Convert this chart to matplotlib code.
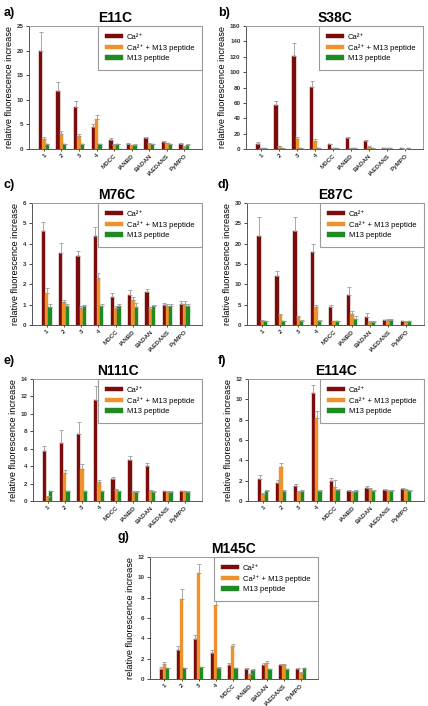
import numpy as np
import matplotlib
matplotlib.use('Agg')
import matplotlib.pyplot as plt

plt.rcParams['font.family'] = ['Liberation Sans', 'DejaVu Sans']

categories = ['1', '2', '3', '4', 'MDCC', 'IANBD', 'BADAN', 'IAEDANS', 'PyMPO']
series_names = ['Ca²⁺', 'Ca²⁺ + M13 peptide', 'M13 peptide']
colors = ['#7a0c0c', '#f0922c', '#1f8a23']

# a) E11C
e11c_ca = [19.9, 11.7, 8.5, 4.5, 1.9, 1.1, 2.2, 1.4, 1.1]
e11c_ca_err = [3.8, 2.0, 1.2, 0.6, 0.3, 0.15, 0.3, 0.15, 0.1]
e11c_pep = [2.1, 3.1, 2.6, 6.1, 0.9, 0.8, 1.1, 1.2, 0.5]
e11c_pep_err = [0.3, 0.6, 0.4, 0.8, 0.1, 0.1, 0.1, 0.1, 0.05]
e11c_m13 = [1.0, 1.0, 1.0, 1.0, 1.0, 0.9, 1.0, 1.0, 0.9]
e11c_m13_err = [0.1, 0.1, 0.1, 0.1, 0.1, 0.1, 0.1, 0.1, 0.1]

# b) S38C
s38c_ca = [7, 57, 121, 81, 6, 14, 10, 1, 1]
s38c_ca_err = [2, 6, 17, 8, 0.6, 1.5, 1.5, 0.1, 0.1]
s38c_pep = [1, 4, 13, 11, 1, 1, 3, 1, 0.5]
s38c_pep_err = [0.2, 0.5, 3, 1.5, 0.1, 0.1, 0.5, 0.1, 0.1]
s38c_m13 = [1, 1, 1, 1, 1, 1, 1, 1, 1]
s38c_m13_err = [0.1, 0.1, 0.1, 0.1, 0.1, 0.1, 0.1, 0.1, 0.1]

# c) M76C
m76c_ca = [4.6, 3.55, 3.38, 4.4, 1.37, 1.47, 1.63, 0.98, 1.05]
m76c_ca_err = [0.47, 0.5, 0.25, 0.43, 0.2, 0.25, 0.12, 0.08, 0.15]
m76c_pep = [1.58, 1.13, 0.83, 2.32, 0.83, 1.23, 0.8, 0.95, 1.05]
m76c_pep_err = [0.22, 0.12, 0.1, 0.22, 0.1, 0.15, 0.08, 0.1, 0.12]
m76c_m13 = [0.9, 0.95, 0.95, 0.95, 0.93, 0.88, 0.93, 0.93, 0.93]
m76c_m13_err = [0.12, 0.1, 0.05, 0.08, 0.12, 0.2, 0.07, 0.1, 0.08]

# d) E87C
e87c_ca = [21.8, 12.0, 23.0, 18.0, 4.5, 7.5, 2.0, 1.2, 1.0]
e87c_ca_err = [4.8, 1.3, 3.5, 1.8, 0.4, 1.8, 0.9, 0.1, 0.1]
e87c_pep = [1.1, 2.5, 2.0, 4.5, 1.0, 2.7, 0.8, 1.3, 0.8]
e87c_pep_err = [0.1, 0.3, 0.3, 0.4, 0.1, 0.8, 0.2, 0.1, 0.1]
e87c_m13 = [1.0, 1.0, 1.1, 1.1, 1.0, 1.5, 0.8, 1.3, 1.0]
e87c_m13_err = [0.1, 0.1, 0.1, 0.1, 0.1, 0.8, 0.1, 0.1, 0.1]

# e) N111C
n111c_ca = [5.7, 6.7, 7.7, 11.6, 2.5, 4.7, 4.0, 1.1, 1.1]
n111c_ca_err = [0.65, 1.4, 1.4, 1.6, 0.3, 0.45, 0.4, 0.1, 0.1]
n111c_pep = [0.5, 3.2, 3.7, 2.2, 1.3, 1.0, 1.2, 1.0, 1.1]
n111c_pep_err = [0.1, 0.4, 0.6, 0.2, 0.1, 0.1, 0.1, 0.1, 0.1]
n111c_m13 = [1.1, 1.1, 1.1, 1.1, 1.1, 1.0, 1.0, 1.0, 1.0]
n111c_m13_err = [0.1, 0.1, 0.1, 0.1, 0.1, 0.1, 0.1, 0.1, 0.1]

# f) E114C
e114c_ca = [2.2, 1.8, 1.5, 10.6, 2.0, 1.0, 1.3, 1.1, 1.2]
e114c_ca_err = [0.35, 0.25, 0.2, 0.8, 0.3, 0.1, 0.15, 0.1, 0.1]
e114c_pep = [0.7, 3.3, 0.9, 8.2, 1.4, 0.9, 1.2, 1.0, 1.1]
e114c_pep_err = [0.1, 0.4, 0.1, 0.7, 0.7, 0.1, 0.1, 0.1, 0.1]
e114c_m13 = [1.0, 1.0, 1.0, 1.0, 1.1, 1.0, 1.0, 1.0, 1.0]
e114c_m13_err = [0.1, 0.1, 0.1, 0.1, 0.1, 0.1, 0.1, 0.1, 0.1]

# g) M145C
m145c_ca = [1.0, 2.85, 3.95, 2.6, 1.35, 1.0, 1.4, 1.35, 0.95]
m145c_ca_err = [0.15, 0.4, 0.35, 0.25, 0.2, 0.1, 0.15, 0.1, 0.1]
m145c_pep = [1.5, 7.85, 10.4, 7.3, 3.2, 0.45, 1.55, 1.35, 0.55]
m145c_pep_err = [0.2, 1.05, 0.95, 0.55, 0.25, 0.05, 0.2, 0.15, 0.1]
m145c_m13 = [1.05, 1.05, 1.15, 1.1, 1.05, 0.9, 0.95, 0.95, 1.05]
m145c_m13_err = [0.05, 0.05, 0.05, 0.05, 0.05, 0.05, 0.05, 0.05, 0.05]

W, H = 428, 706
fig = plt.figure(figsize=(W / 100, H / 100), dpi=100)


def add_ax(left, right, top, bottom):
    return fig.add_axes([left / W, 1 - bottom / H, (right - left) / W, (bottom - top) / H])


def draw_panel(ax, title, data, ymax, ystep):
    x = np.arange(len(categories))
    w = 0.19
    for i, (vals, errs) in enumerate(data):
        errs = np.array(errs)
        ax.bar(x + (i - 1) * w, vals, w, color=colors[i], edgecolor=colors[i],
               linewidth=0.3, label=series_names[i], zorder=2)
        ax.errorbar(x + (i - 1) * w, vals, yerr=[np.zeros_like(errs), errs], fmt='none',
                    ecolor='#9a9a9a', elinewidth=0.6, capsize=1.5, capthick=0.6, zorder=3)
    ax.set_xlim(-0.85, 9.0)
    ax.set_ylim(0, ymax)
    ax.set_yticks(np.arange(0, ymax + 0.01, ystep))
    ax.set_xticks(x)
    ax.set_xticklabels(categories, rotation=45, ha='right', rotation_mode='anchor',
                       fontsize=4.5, fontweight='bold', color='#333333')
    ax.tick_params(axis='y', labelsize=4.5, length=2, width=0.5, pad=2, labelcolor='#333333')
    ax.tick_params(axis='x', length=1.5, width=0.5, pad=1.5)
    for lab in ax.get_yticklabels():
        lab.set_fontweight('bold')
    for s in ['left', 'bottom']:
        ax.spines[s].set_color('#555555')
        ax.spines[s].set_linewidth(0.7)
    for s in ['top', 'right']:
        ax.spines[s].set_color('#999999')
        ax.spines[s].set_linewidth(0.7)
    ax.set_title(title, fontsize=10, fontweight='bold', pad=3)
    ax.set_ylabel('relative fluorescence increase', fontsize=6.6, labelpad=2)
    leg = ax.legend(loc='upper right', fontsize=5.5, borderaxespad=0, fancybox=False,
                    handlelength=2.3, handleheight=0.45, labelspacing=0.45,
                    borderpad=1.0, handletextpad=0.5, framealpha=1)
    leg.get_frame().set_edgecolor('#999999')
    leg.get_frame().set_linewidth(0.8)
    return ax


panels = [
    ('a)', 'E11C', [(e11c_ca, e11c_ca_err), (e11c_pep, e11c_pep_err), (e11c_m13, e11c_m13_err)], 25, 5,
     (29, 202, 26, 149), (4, 13)),
    ('b)', 'S38C', [(s38c_ca, s38c_ca_err), (s38c_pep, s38c_pep_err), (s38c_m13, s38c_m13_err)], 160, 20,
     (246, 423, 26, 149), (218, 13)),
    ('c)', 'M76C', [(m76c_ca, m76c_ca_err), (m76c_pep, m76c_pep_err), (m76c_m13, m76c_m13_err)], 6, 1,
     (32, 202, 203, 325), (4, 185)),
    ('d)', 'E87C', [(e87c_ca, e87c_ca_err), (e87c_pep, e87c_pep_err), (e87c_m13, e87c_m13_err)], 30, 5,
     (247, 424, 203, 325), (218, 185)),
    ('e)', 'N111C', [(n111c_ca, n111c_ca_err), (n111c_pep, n111c_pep_err), (n111c_m13, n111c_m13_err)], 14, 2,
     (33, 202, 379, 501), (4, 361)),
    ('f)', 'E114C', [(e114c_ca, e114c_ca_err), (e114c_pep, e114c_pep_err), (e114c_m13, e114c_m13_err)], 12, 2,
     (248, 424, 379, 501), (218, 361)),
    ('g)', 'M145C', [(m145c_ca, m145c_ca_err), (m145c_pep, m145c_pep_err), (m145c_m13, m145c_m13_err)], 12, 2,
     (150, 318, 557, 679), (118, 537)),
]

for letter, title, data, ymax, ystep, rect, lpos in panels:
    ax = add_ax(*rect)
    draw_panel(ax, title, data, ymax, ystep)
    fig.text(lpos[0] / W, 1 - lpos[1] / H, letter, fontsize=9, fontweight='bold', va='center', ha='left')

fig.savefig('out.png', dpi=100)
